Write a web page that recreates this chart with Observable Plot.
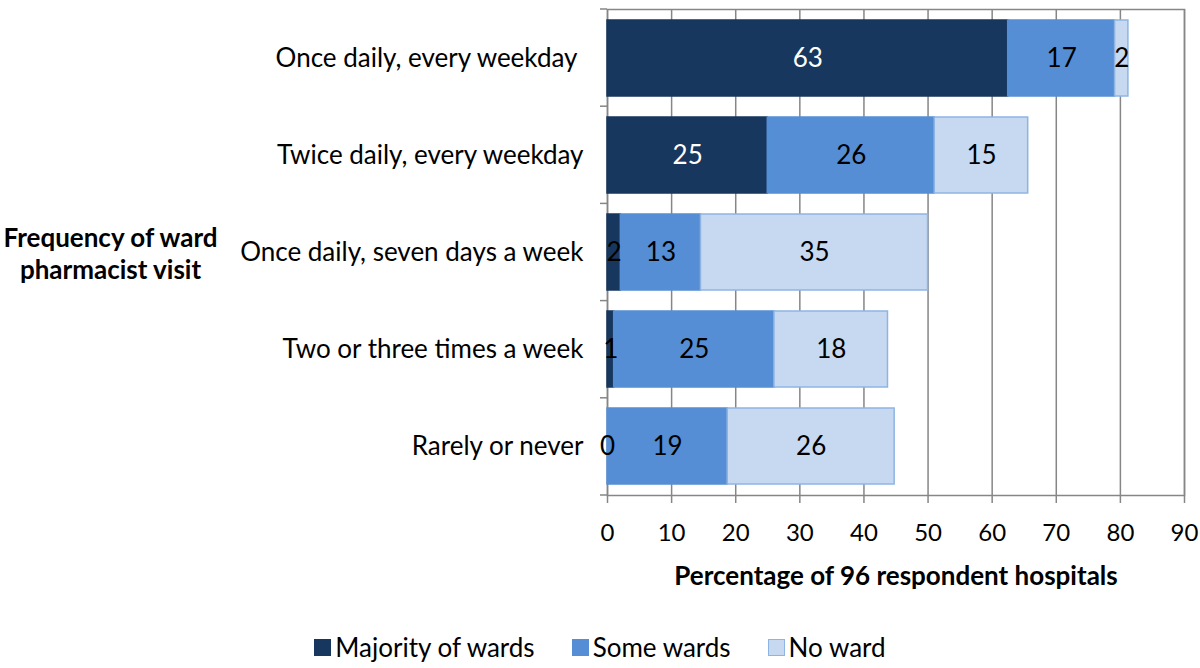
<!DOCTYPE html>
<html>
<head>
<meta charset="utf-8">
<script src="https://cdn.jsdelivr.net/npm/d3@7"></script>
<script src="https://cdn.jsdelivr.net/npm/@observablehq/plot@0.6"></script>
<style>
  body { margin: 0; background: #fff; font-family: Lato, "Open Sans", sans-serif; }
  #chart svg { display: block; }
  .legend { display: flex; justify-content: center; gap: 37px; font-size: 26px; color: #000; margin-top: 32px; line-height: 30px; }
  .legend .item { display: flex; align-items: center; }
  .legend .sw { width: 17px; height: 17px; margin-right: 4px; box-sizing: border-box; }
</style>
</head>
<body>
<div id="chart"></div>
<script>
const categories = [
  "Once daily, every weekday\u00a0",
  "Twice daily, every weekday",
  "Once daily, seven days a week",
  "Two or three times a week",
  "Rarely or never"
];
const series = ["Majority of wards", "Some wards", "No ward"];
const majority = [62.5, 25.0, 2.08, 1.04, 0];
const some = [16.67, 26.04, 12.5, 25.0, 18.75];
const noWard = [2.08, 14.58, 35.42, 17.71, 26.04];
const xTicks = [0, 10, 20, 30, 40, 50, 60, 70, 80, 90];
const colors = ["#17375E", "#558ED5", "#C6D9F1"];
const strokes = ["#17375E", "#558ED5", "#8EB4E3"];
const xTitle = "Percentage of 96 respondent hospitals";
const yTitle = "Frequency of ward\npharmacist visit";

const seriesValues = [majority, some, noWard];
const table = [];
series.forEach((s, si) => {
  categories.forEach((c, ci) => {
    table.push({category: c, series: s, value: seriesValues[si][ci]});
  });
});

const labelFill = d => (d.series === "Majority of wards" && d.value >= 5) ? "white" : "black";

const boundaryTicks = (index, scales, values, dims) => {
  const g = d3.create("svg:g");
  const n = categories.length;
  const top = dims.marginTop, bottom = dims.height - dims.marginBottom;
  for (let k = 0; k <= n; k++) {
    const y = top + k * (bottom - top) / n;
    g.append("line").attr("x1", dims.marginLeft - 7).attr("x2", dims.marginLeft)
      .attr("y1", y).attr("y2", y).attr("stroke", "#868686").attr("stroke-width", 1.5);
  }
  return g.node();
};

const plot = Plot.plot({
  width: 1200,
  height: 600,
  marginLeft: 607,
  marginRight: 16,
  marginTop: 9,
  marginBottom: 105,
  style: {fontFamily: "Lato, 'Open Sans', sans-serif", fontSize: "26px", color: "#000", background: "#fff"},
  x: {domain: [0, 90], ticks: xTicks, label: null},
  y: {domain: categories, paddingInner: 0.22, paddingOuter: 0.11, label: null},
  color: {domain: series, range: colors},
  marks: [
    Plot.gridX(xTicks, {stroke: "#868686", strokeOpacity: 1, strokeWidth: 1.5}),
    Plot.frame({stroke: "#868686", strokeWidth: 1.5}),
    Plot.barX(table, {x: "value", y: "category", fill: "series",
      stroke: d => strokes[series.indexOf(d.series)], strokeWidth: 1.5}),
    Plot.text(table, Plot.stackX({x: "value", y: "category", z: "series",
      text: d => String(Math.round(d.value)), fill: labelFill, fontSize: 26})),
    Plot.axisX(xTicks, {tickSize: 8, tickPadding: 20, stroke: "#868686", strokeWidth: 1.5, fontSize: 24, label: null}),
    Plot.axisY({tickSize: 0, tickPadding: 24, fontSize: 26, label: null}),
    boundaryTicks,
    Plot.text([xTitle], {frameAnchor: "bottom", dy: 89, fontWeight: "bold", fontSize: 26}),
    Plot.text([yTitle], {frameAnchor: "left", dx: -497, fontWeight: "bold", fontSize: 26, lineHeight: 1.25, textAnchor: "middle"})
  ]
});
document.getElementById("chart").appendChild(plot);

const legend = d3.select("body").append("div").attr("class", "legend");
series.forEach((s, i) => {
  const it = legend.append("div").attr("class", "item");
  it.append("div").attr("class", "sw").style("background", colors[i])
    .style("border", i === 2 ? "1.5px solid #8EB4E3" : "none");
  it.append("span").text(s);
});
</script>
</body>
</html>
